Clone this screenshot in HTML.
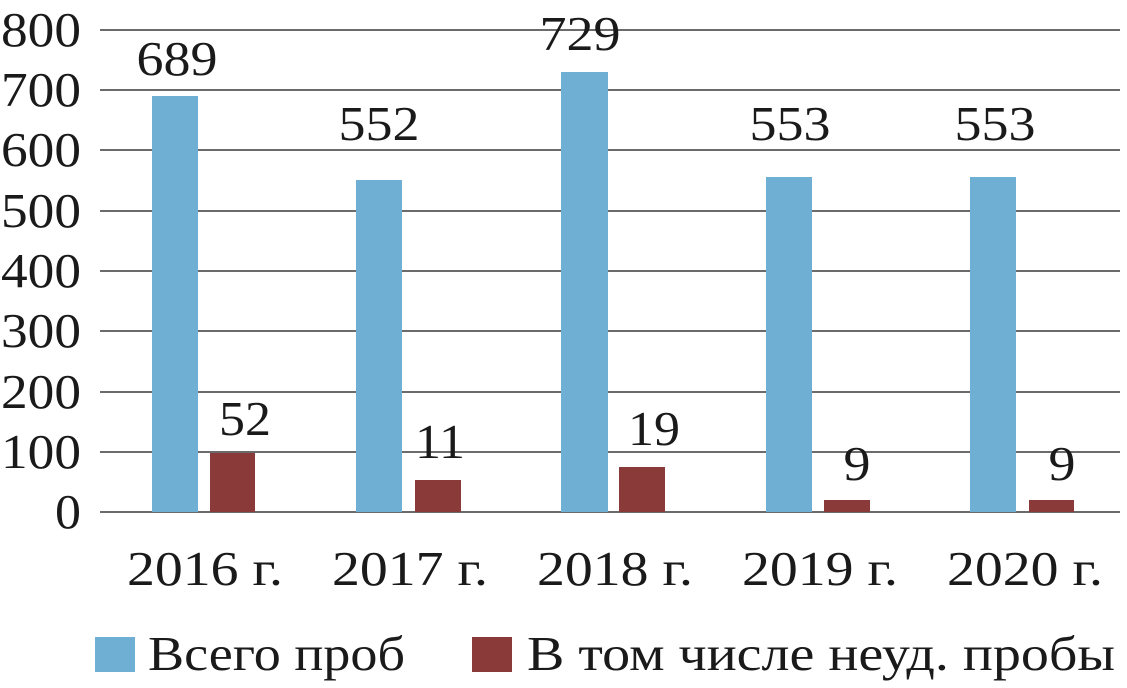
<!DOCTYPE html>
<html><head><meta charset="utf-8"><style>html,body{margin:0;padding:0;background:#fff}</style></head>
<body>
<svg width="1127" height="683" xmlns="http://www.w3.org/2000/svg" font-family="'Liberation Serif', serif" fill="#1a1a1a">
<g stroke="#6b6b6b" stroke-width="2">
<line x1="100" y1="30" x2="1120" y2="30"/>
<line x1="100" y1="90" x2="1120" y2="90"/>
<line x1="100" y1="150" x2="1120" y2="150"/>
<line x1="100" y1="211" x2="1120" y2="211"/>
<line x1="100" y1="271" x2="1120" y2="271"/>
<line x1="100" y1="331" x2="1120" y2="331"/>
<line x1="100" y1="392" x2="1120" y2="392"/>
<line x1="100" y1="452" x2="1120" y2="452"/>
<line x1="100" y1="512" x2="1120" y2="512"/>
</g>
<g font-size="49" text-anchor="end" lengthAdjust="spacingAndGlyphs">
<text x="81" y="46" textLength="80" lengthAdjust="spacingAndGlyphs">800</text>
<text x="81" y="106" textLength="80" lengthAdjust="spacingAndGlyphs">700</text>
<text x="81" y="166" textLength="80" lengthAdjust="spacingAndGlyphs">600</text>
<text x="81" y="227" textLength="80" lengthAdjust="spacingAndGlyphs">500</text>
<text x="81" y="287" textLength="80" lengthAdjust="spacingAndGlyphs">400</text>
<text x="81" y="347" textLength="80" lengthAdjust="spacingAndGlyphs">300</text>
<text x="81" y="408" textLength="80" lengthAdjust="spacingAndGlyphs">200</text>
<text x="81" y="468" textLength="80" lengthAdjust="spacingAndGlyphs">100</text>
<text x="81" y="528" textLength="26" lengthAdjust="spacingAndGlyphs">0</text>
</g>
<g fill="#70afd4">
<rect x="152" y="96" width="46" height="416"/>
<rect x="356" y="180" width="46" height="332"/>
<rect x="561" y="72" width="47" height="440"/>
<rect x="766" y="177" width="46" height="335"/>
<rect x="970" y="177" width="46" height="335"/>
</g>
<g fill="#8b3a3a">
<rect x="210" y="453" width="45" height="59"/>
<rect x="415" y="480" width="46" height="32"/>
<rect x="619" y="467" width="46" height="45"/>
<rect x="824" y="500" width="46" height="12"/>
<rect x="1029" y="500" width="45" height="12"/>
</g>
<g font-size="49" text-anchor="middle">
<text x="177" y="75" textLength="81" lengthAdjust="spacingAndGlyphs">689</text>
<text x="245" y="435" textLength="52" lengthAdjust="spacingAndGlyphs">52</text>
<text x="379" y="140" textLength="81" lengthAdjust="spacingAndGlyphs">552</text>
<text x="440" y="458" textLength="50" lengthAdjust="spacingAndGlyphs">11</text>
<text x="580" y="50" textLength="81" lengthAdjust="spacingAndGlyphs">729</text>
<text x="654" y="445" textLength="52" lengthAdjust="spacingAndGlyphs">19</text>
<text x="790" y="140" textLength="81" lengthAdjust="spacingAndGlyphs">553</text>
<text x="857" y="480" textLength="27" lengthAdjust="spacingAndGlyphs">9</text>
<text x="995" y="140" textLength="81" lengthAdjust="spacingAndGlyphs">553</text>
<text x="1062" y="480" textLength="27" lengthAdjust="spacingAndGlyphs">9</text>
</g>
<g font-size="49" text-anchor="middle">
<text x="205" y="585" textLength="156" lengthAdjust="spacingAndGlyphs">2016 г.</text>
<text x="410" y="585" textLength="156" lengthAdjust="spacingAndGlyphs">2017 г.</text>
<text x="615" y="585" textLength="156" lengthAdjust="spacingAndGlyphs">2018 г.</text>
<text x="820" y="585" textLength="156" lengthAdjust="spacingAndGlyphs">2019 г.</text>
<text x="1025" y="585" textLength="156" lengthAdjust="spacingAndGlyphs">2020 г.</text>
</g>
<rect x="95" y="637" width="40" height="35" fill="#70afd4"/>
<text x="148" y="670" font-size="49" textLength="257" lengthAdjust="spacingAndGlyphs">Всего проб</text>
<rect x="472" y="637" width="40" height="35" fill="#8b3a3a"/>
<text x="527" y="670" font-size="49" textLength="588" lengthAdjust="spacingAndGlyphs">В том числе неуд. пробы</text>
</svg>
</body></html>
